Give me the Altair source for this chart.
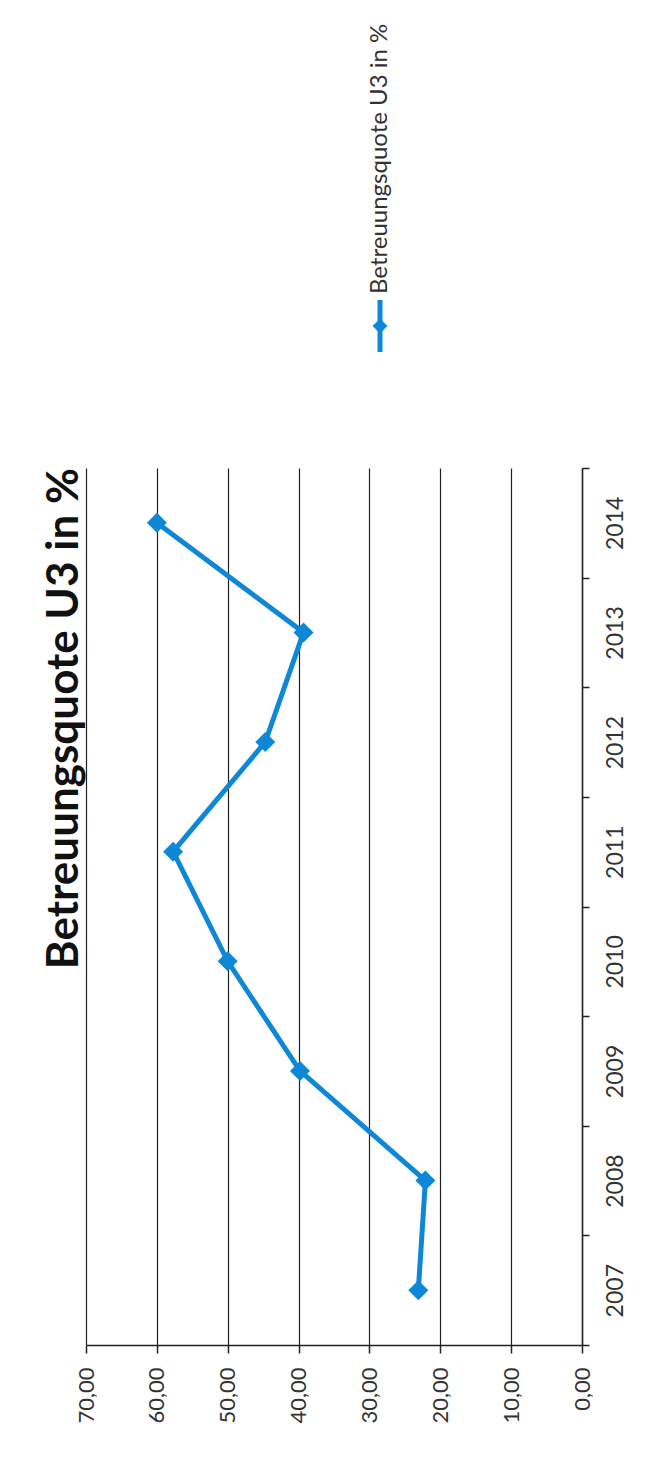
import altair as alt
import pandas as pd

# ---- data ----
years = ["2007", "2008", "2009", "2010", "2011", "2012", "2013", "2014"]
quote = [23.1, 22.1, 39.8, 50.0, 57.7, 44.7, 39.3, 60.0]
value_ticks = [0, 10, 20, 30, 40, 50, 60, 70]
series_name = "Betreuungsquote U3 in %"
title_text = "Betreuungsquote U3 in %"

df = pd.DataFrame({"Jahr": years, "Quote": quote})
legend_df = pd.DataFrame({"serie": [series_name]})

BLUE = "#0e88d6"
FONT = "Lato"
INK = "#222222"
LABEL = "#333333"

x_enc = alt.X(
    "Quote:Q",
    scale=alt.Scale(domain=[0, 70], reverse=True, nice=False),
    axis=alt.Axis(
        values=value_ticks,
        labelExpr="replace(format(datum.value, '.2f'), '.', ',')",
        title=None,
        orient="bottom",
        labelAngle=270,
        labelAlign="right",
        labelBaseline="middle",
        labelFont=FONT,
        labelFontSize=22,
        labelColor=LABEL,
        labelPadding=14,
        grid=True,
        gridColor=INK,
        gridWidth=1.2,
        domainColor=INK,
        domainWidth=1.5,
        tickColor=INK,
        tickWidth=1.5,
        tickSize=8,
    ),
)

y_enc = alt.Y(
    "Jahr:O",
    sort="descending",
    scale=alt.Scale(type="band", paddingInner=0, paddingOuter=0),
    axis=alt.Axis(
        orient="right",
        title=None,
        tickBand="extent",
        labelAngle=270,
        labelAlign="center",
        labelBaseline="top",
        labelFont=FONT,
        labelFontSize=23,
        labelColor=LABEL,
        labelPadding=15,
        grid=False,
        domainColor=INK,
        domainWidth=1.5,
        tickColor=INK,
        tickWidth=1.5,
        tickSize=7,
    ),
)

base = alt.Chart(df).encode(x=x_enc, y=y_enc)
line = base.mark_line(color=BLUE, strokeWidth=5)
pts = base.mark_point(shape="diamond", filled=True, size=400, color=BLUE, opacity=1)

# manual legend entry (rotated like the reference)
leg_rule = alt.Chart(legend_df).mark_rule(color=BLUE, strokeWidth=5).encode(
    x=alt.value(294), y=alt.value(-168), y2=alt.value(-116)
)
leg_pt = alt.Chart(legend_df).mark_point(
    shape="diamond", filled=True, size=220, color=BLUE, opacity=1
).encode(x=alt.value(294), y=alt.value(-142))
leg_txt = alt.Chart(legend_df).mark_text(
    angle=270, align="left", baseline="middle", font=FONT, fontSize=24, color=LABEL
).encode(text="serie:N", x=alt.value(294), y=alt.value(-174))

chart = (
    alt.layer(line, pts, leg_rule, leg_pt, leg_txt)
    .properties(
        width=496,
        height=877,
        padding={"left": 78, "top": 460, "right": 71, "bottom": 106},
        autosize="none",
        background="white",
        title=alt.TitleParams(
            text=title_text,
            orient="left",
            anchor="end",
            frame="group",
            font=FONT,
            fontSize=44,
            fontWeight="bold",
            color="#111111",
            offset=6,
            dy=18,
        ),
    )
    .configure_view(strokeWidth=0)
)

chart.save("out.html", embed_options={"renderer": "svg", "actions": False})
